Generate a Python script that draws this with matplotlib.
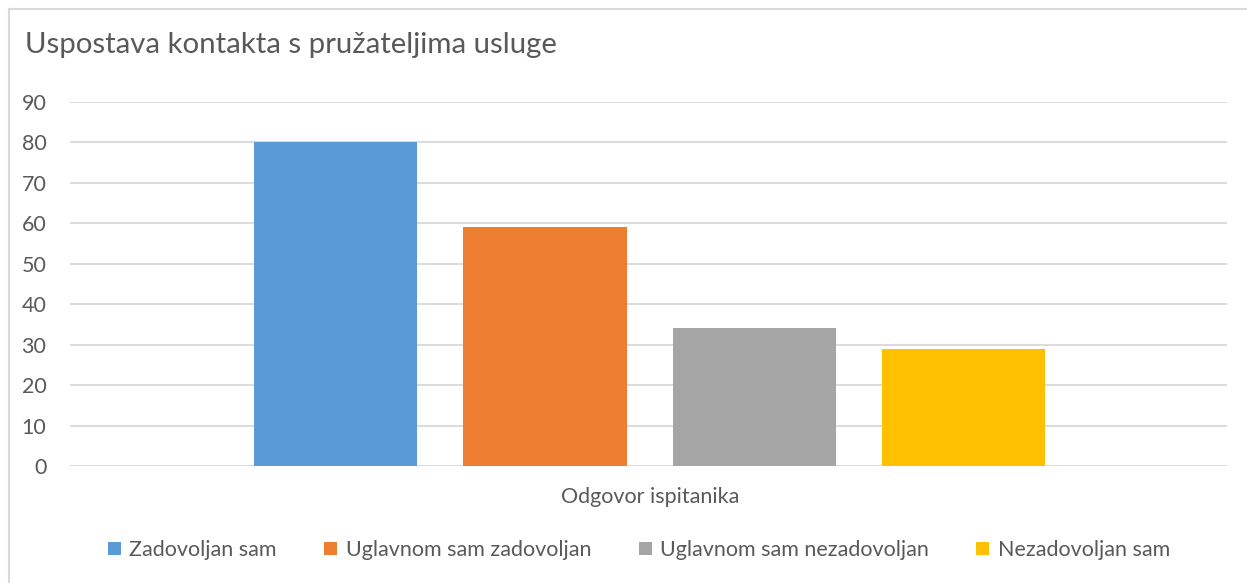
import matplotlib
matplotlib.use("Agg")
import matplotlib.pyplot as plt
from matplotlib.patches import Patch
from matplotlib.lines import Line2D

plt.rcParams['font.family'] = ['Lato', 'DejaVu Sans']

title = "Uspostava kontakta s pružateljima usluge"
category = "Odgovor ispitanika"
series = ["Zadovoljan sam", "Uglavnom sam zadovoljan",
          "Uglavnom sam nezadovoljan", "Nezadovoljan sam"]
values = [80, 59, 34, 29]
colors = ["#5b9bd5", "#ed7d31", "#a5a5a5", "#ffc000"]
yticks = [0, 10, 20, 30, 40, 50, 60, 70, 80, 90]

W, H = 1247, 583
fig = plt.figure(figsize=(W / 100, H / 100), dpi=100)
ax = fig.add_axes([70 / W, 117 / H, 1157 / W, 364 / H])

x = list(range(len(values)))
ax.bar(x, values, width=0.78, color=colors, zorder=3)

ax.set_ylim(0, 90)
ax.set_xlim(-1.27, 4.26)
ax.set_yticks(yticks)
ax.set_xticks([])
ax.yaxis.grid(True, color="#d9d9d9", linewidth=1.3, zorder=0)
for s in ax.spines.values():
    s.set_visible(False)
ax.tick_params(axis="y", length=0, pad=17, labelsize=15.5, labelcolor="#595959")

# category label under the bars
fig.text(650 / W, 1 - 497 / H, category, ha="center", va="center",
         fontsize=15.5, color="#595959")

fig.text(25 / W, 1 - 45 / H, title, ha="left", va="center",
         fontsize=21.2, color="#595959")

handles = [Patch(facecolor=c, edgecolor="none") for c in colors]
fig.legend(handles, series, loc="center", bbox_to_anchor=(639 / W, 1 - 550 / H),
           ncol=4, frameon=False, fontsize=15.5, labelcolor="#595959",
           handlelength=0.6, handleheight=0.6, handletextpad=0.4,
           columnspacing=2.2)

# chart border
fig.add_artist(Line2D([9 / W, 9 / W], [0, 1 - 9 / H], transform=fig.transFigure,
                      color="#d9d9d9", linewidth=1.5))
fig.add_artist(Line2D([9 / W, 1], [1 - 9 / H, 1 - 9 / H], transform=fig.transFigure,
                      color="#d9d9d9", linewidth=1.5))

fig.savefig("out.png", dpi=100, facecolor="white")
